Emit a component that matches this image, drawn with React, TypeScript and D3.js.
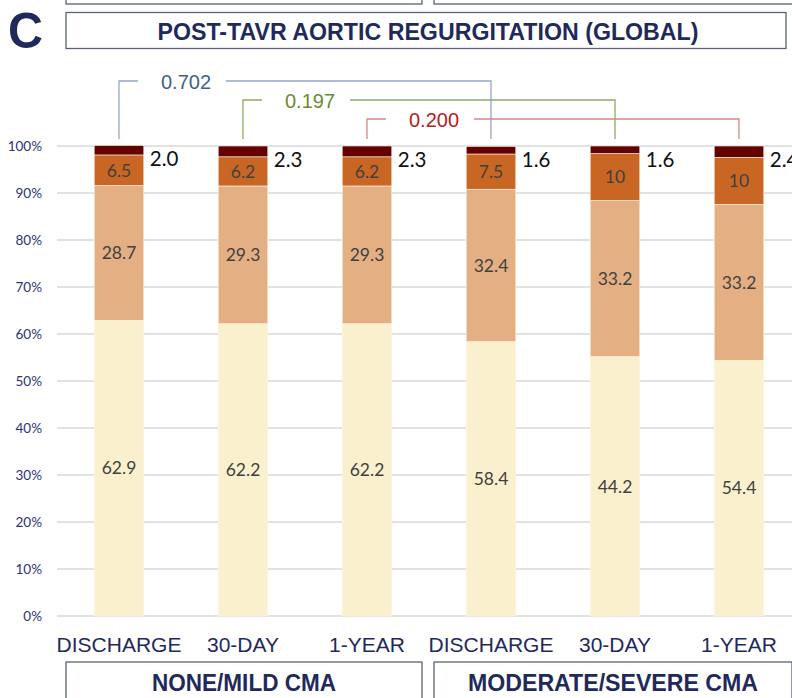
import * as d3 from "d3";

const categories = ["DISCHARGE", "30-DAY", "1-YEAR", "DISCHARGE", "30-DAY", "1-YEAR"];
const groups = ["NONE/MILD CMA", "MODERATE/SEVERE CMA"];
const yTicks = [0, 10, 20, 30, 40, 50, 60, 70, 80, 90, 100];

// stacked from bottom: none/trace, mild, moderate, severe
const noneTrace = [62.9, 62.2, 62.2, 58.4, 55.2, 54.4];
const noneTraceLabels = ["62.9", "62.2", "62.2", "58.4", "44.2", "54.4"];
const mild = [28.7, 29.3, 29.3, 32.4, 33.2, 33.2];
const moderate = [6.5, 6.2, 6.2, 7.5, 10, 10];
const severe = [2.0, 2.3, 2.3, 1.6, 1.6, 2.4];

const pValues = ["0.702", "0.197", "0.200"];
const pFrom = [0, 1, 2];
const pTo = [3, 4, 5];

const NAVY = "#1F2A5B";
const segColors = ["#FBF0CD", "#E4B083", "#C96624", "#640000"];
const pLine = ["#95A7CA", "#8DAB62", "#DB8585"];
const pText = ["#3F5F8F", "#6A8A36", "#B42025"];

export default function App() {
  const width = 792;
  const height = 698;

  const x = d3.scaleBand<number>()
    .domain(d3.range(categories.length))
    .range([57, 801])
    .paddingInner(0.6)
    .paddingOuter(0.3);
  const y = d3.scaleLinear().domain([0, 100]).range([616, 146]);

  const series = [noneTrace, mild, moderate, severe];
  const rows = categories.map((_, i) => {
    const o: any = { i };
    series.forEach((s, k) => (o[k] = s[i]));
    return o;
  });
  const stacked = d3.stack<any>().keys(["0", "1", "2", "3"])(rows);

  const fmt = (v: number) => (Number.isInteger(v) && v < 5 ? v.toFixed(1) : String(v));

  const fontNum = "Lato, 'Noto Sans', sans-serif";
  const fontHead = "'Liberation Sans', Arial, sans-serif";

  return (
    <div style={{ position: "absolute", left: 0, top: 0 }}>
      <svg width={width} height={height} style={{ display: "block" }}>
        <rect width={width} height={height} fill="#fff" />

        {/* cut-off panel boxes above */}
        <rect x={66} y={-30} width={356} height={34} fill="none" stroke="#5A6080" strokeWidth={1.3} />
        <rect x={434} y={-30} width={370} height={34} fill="none" stroke="#5A6080" strokeWidth={1.3} />

        <text x={8} y={48} fontFamily={fontHead} fontWeight="bold" fontSize={50} fill={NAVY}
          textLength={35} lengthAdjust="spacingAndGlyphs">C</text>
        <rect x={66} y={12.5} width={720} height={36} fill="#fff" stroke="#5A6080" strokeWidth={1.3} />
        <text x={428} y={39.5} textAnchor="middle" fontFamily={fontHead} fontWeight="bold" fontSize={24}
          fill={NAVY} textLength={541} lengthAdjust="spacingAndGlyphs">
          POST-TAVR AORTIC REGURGITATION (GLOBAL)
        </text>

        {yTicks.map((t) => (
          <g key={t}>
            <line x1={57} x2={width} y1={y(t)} y2={y(t)} stroke="#D9D9D9" strokeWidth={1.3} />
            <text x={42} y={y(t)} dy="0.35em" textAnchor="end" fontFamily={fontNum} fontSize={13.5} fill="#2B3378">
              {t}%
            </text>
          </g>
        ))}

        {stacked.map((layer, k) => (
          <g key={k}>
            {layer.map((d, i) => (
              <rect key={i} x={x(i)} width={x.bandwidth()} y={y(d[1])} height={y(d[0]) - y(d[1])}
                fill={segColors[k]} stroke="#FFF6EA" strokeWidth={0.6} />
            ))}
          </g>
        ))}

        {stacked.slice(0, 3).map((layer, k) => (
          <g key={k}>
            {layer.map((d, i) => (
              <text key={i} x={(x(i) as number) + x.bandwidth() / 2} y={y((d[0] + d[1]) / 2)} dy="0.36em"
                textAnchor="middle" fontFamily={fontNum} fontSize={17.5} fill="#404040">
                {k === 0 ? noneTraceLabels[i] : String(series[k][i])}
              </text>
            ))}
          </g>
        ))}

        {stacked[3].map((d, i) => (
          <text key={i} x={(x(i) as number) + x.bandwidth() + 6} y={y(d[1]) + 13.5} dy="0.36em"
            fontFamily={fontNum} fontSize={20.5} fill="#111">
            {fmt(severe[i])}
          </text>
        ))}

        {pValues.map((p, j) => {
          const x0 = (x(pFrom[j]) as number) + x.bandwidth() / 2;
          const x1 = (x(pTo[j]) as number) + x.bandwidth() / 2;
          const yl = 81 + j * 19;
          const yb = 139;
          return (
            <g key={j}>
              <path d={`M${x0},${yb}V${yl}H${x0 + 19}`} fill="none" stroke={pLine[j]} strokeWidth={1.3} />
              <path d={`M${x0 + 107},${yl}H${x1}V${yb}`} fill="none" stroke={pLine[j]} strokeWidth={1.3} />
              <text x={x0 + 67} y={yl + 1} dy="0.36em" textAnchor="middle" fontFamily={fontHead}
                fontSize={20} fill={pText[j]}>
                {p}
              </text>
            </g>
          );
        })}

        {categories.map((c, i) => (
          <text key={i} x={(x(i) as number) + x.bandwidth() / 2} y={652} textAnchor="middle"
            fontFamily={fontHead} fontSize={21} fill={NAVY}>
            {c}
          </text>
        ))}

        {groups.map((g, j) => {
          const bx = j === 0 ? 66 : 434;
          const bw = j === 0 ? 356 : 358;
          return (
            <g key={g}>
              <rect x={bx} y={662} width={bw} height={60} fill="#fff" stroke="#5A6080" strokeWidth={1.3} />
              <text x={bx + bw / 2} y={691} textAnchor="middle" fontFamily={fontHead} fontWeight="bold"
                fontSize={23} fill={NAVY} textLength={j === 0 ? 184 : 290} lengthAdjust="spacingAndGlyphs">
                {g}
              </text>
            </g>
          );
        })}
      </svg>
    </div>
  );
}
